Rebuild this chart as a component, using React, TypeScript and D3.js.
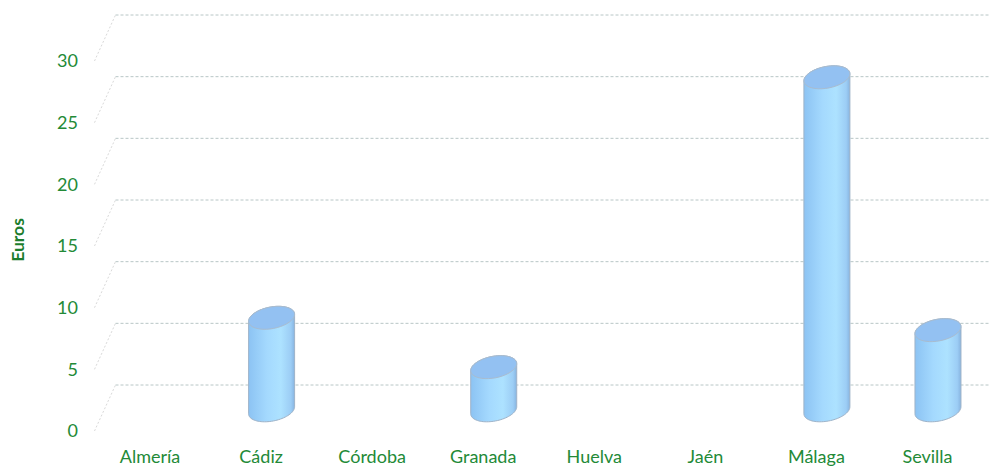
import {useEffect, useRef} from "react"
import * as d3 from "d3"

const categories = ["Almería", "Cádiz", "Córdoba", "Granada", "Huelva", "Jaén", "Málaga", "Sevilla"]
const values = [0, 7.5, 0, 3.5, 0, 0, 27, 6.5]
const yTicks = [0, 5, 10, 15, 20, 25, 30]

const green = "#238a37"

export default function App() {
  const width = 989
  const height = 466
  // oblique depth of the floor / back wall
  const depth = {dx: 21, dy: -46}
  const front = {left: 94.5, right: 983, bottom: 431, top: 61}

  const ref = useRef<SVGSVGElement>(null)

  useEffect(() => {
    const svg = d3.select(ref.current)
    svg.selectAll("*").remove()

    const x = d3.scaleBand().domain(categories).range([front.left, front.right])
    const y = d3.scaleLinear().domain([0, 30]).range([front.bottom, front.top])

    const defs = svg.append("defs")
    const grad = defs
      .append("linearGradient")
      .attr("id", "cyl")
      .attr("x1", "0%")
      .attr("x2", "100%")
    grad.append("stop").attr("offset", "0%").attr("stop-color", "#8cc3f3")
    grad.append("stop").attr("offset", "40%").attr("stop-color", "#a4d9fe")
    grad.append("stop").attr("offset", "70%").attr("stop-color", "#ade2ff")
    grad.append("stop").attr("offset", "92%").attr("stop-color", "#9ccdf5")
    grad.append("stop").attr("offset", "100%").attr("stop-color", "#87b4e0")

    /**
     * Back wall gridlines and the diagonal side edges
     */
    const grid = svg.append("g")
    grid
      .selectAll("line.diag")
      .data(yTicks)
      .join("line")
      .attr("class", "diag")
      .attr("x1", front.left)
      .attr("y1", (d) => y(d))
      .attr("x2", front.left + depth.dx)
      .attr("y2", (d) => y(d) + depth.dy)
      .attr("stroke", "#d9d9d9")
      .attr("stroke-width", 1)
      .attr("stroke-dasharray", "2,2")
    grid
      .selectAll("line.back")
      .data(yTicks)
      .join("line")
      .attr("class", "back")
      .attr("x1", front.left + depth.dx)
      .attr("y1", (d) => y(d) + depth.dy)
      .attr("x2", width)
      .attr("y2", (d) => y(d) + depth.dy)
      .attr("stroke", "#b8c6c6")
      .attr("stroke-width", 1)
      .attr("stroke-dasharray", "3,2")

    /**
     * Axis labels
     */
    svg
      .append("g")
      .selectAll("text")
      .data(yTicks)
      .join("text")
      .attr("x", 78)
      .attr("y", (d) => y(d))
      .attr("dy", "0.35em")
      .attr("text-anchor", "end")
      .attr("fill", green)
      .style("font", "18px Lato, sans-serif")
      .text((d) => d)

    svg
      .append("g")
      .selectAll("text")
      .data(categories)
      .join("text")
      .attr("x", (d) => x(d)! + x.bandwidth() / 2)
      .attr("y", 463)
      .attr("text-anchor", "middle")
      .attr("fill", green)
      .style("font", "18px Lato, sans-serif")
      .text((d) => d)

    svg
      .append("text")
      .attr("transform", "translate(24, 240) rotate(-90)")
      .attr("text-anchor", "middle")
      .attr("fill", "#1c7d2c")
      .style("font", "bold 17.5px Lato, sans-serif")
      .text("Euros")

    /**
     * Cylinders: tilted ellipses for the caps, sides joined at the vertical tangents
     */
    const theta = (-11 * Math.PI) / 180
    const halfW = 23
    const halfH = 11.5
    const s2 = Math.sin(theta) ** 2
    const c2 = Math.cos(theta) ** 2
    const a = Math.sqrt((halfW * halfW * c2 - halfH * halfH * s2) / (c2 - s2))
    const b = Math.sqrt(halfW * halfW + halfH * halfH - a * a)
    const pt = (cx: number, cy: number, t: number): [number, number] => [
      cx + a * Math.cos(t) * Math.cos(theta) - b * Math.sin(t) * Math.sin(theta),
      cy + a * Math.cos(t) * Math.sin(theta) + b * Math.sin(t) * Math.cos(theta),
    ]
    const tR = Math.atan((-b * Math.sin(theta)) / (a * Math.cos(theta)))
    const tL = tR + Math.PI
    const arc = (cx: number, cy: number, t0: number, t1: number) =>
      d3.range(41).map((i) => pt(cx, cy, t0 + ((t1 - t0) * i) / 40))
    const line = d3.line()

    const bars = svg
      .append("g")
      .selectAll("g")
      .data(categories.map((c, i) => ({c, v: values[i]})).filter((d) => d.v > 0))
      .join("g")

    bars.each(function (d) {
      const g = d3.select(this)
      const cx = x(d.c)! + x.bandwidth() / 2 + depth.dx / 2
      const base = y(0) + depth.dy * 0.45
      const top = y(d.v) + depth.dy * 0.45
      const body = [
        ...arc(cx, base, tL, tR),
        ...arc(cx, top, tR, tL - 2 * Math.PI),
      ]
      g.append("path")
        .attr("d", line(body) + "Z")
        .attr("fill", "url(#cyl)")
        .attr("stroke", "#9fb3c8")
        .attr("stroke-width", 1)
      g.append("path")
        .attr("d", line(arc(cx, top, 0, 2 * Math.PI)) + "Z")
        .attr("fill", "#93c1f2")
        .attr("stroke", "#a9bccf")
        .attr("stroke-width", 1)
    })
  }, [])

  return (
    <svg
      ref={ref}
      width={width}
      height={height}
      style={{position: "absolute", left: 0, top: 0, background: "#fff"}}
    />
  )
}
